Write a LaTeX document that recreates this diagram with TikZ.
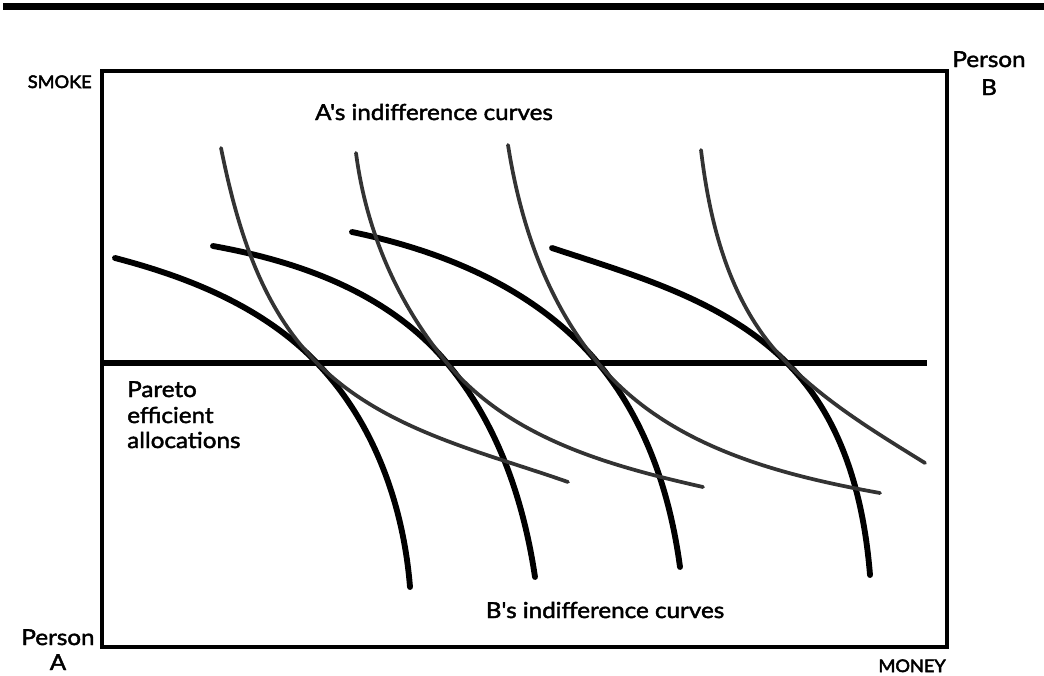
\documentclass[tikz,border=0pt]{standalone}
\usepackage{fontspec}
\setmainfont{Lato}[Ligatures=TeXOff,FakeStretch=1.1,FakeBold=2]
\newfontfamily\labelfont{Lato}[Ligatures=TeXOff,FakeStretch=1.05,FakeBold=3]
\begin{document}
\begin{tikzpicture}[x=0.75pt,y=-0.75pt,
  bcurve/.style={line width=4.4pt,line cap=round,black},
  acurve/.style={line width=2.8pt,line cap=round,black!80},
  frameline/.style={line width=3.6pt,black},
  biglabel/.style={font=\fontsize{16.5}{20}\selectfont,inner sep=0pt,anchor=base},
  smalllabel/.style={font=\labelfont\fontsize{13}{15}\selectfont,inner sep=0pt,anchor=base east},
]
\path[use as bounding box] (0,0) rectangle (1044,675);
% top rule
\fill[black] (3,3) rectangle (1044,9.5);
% frame
\draw[frameline,line join=miter] (102,71) rectangle (947,647);
% Pareto line
\draw[line width=4.6pt] (102,363) -- (927,363);

% B's indifference curves (thick, concave)
\draw[bcurve] (115,258) .. controls (189.9,277.5) and (263.6,307.3) .. (317,363)
                        .. controls (373.9,422.4) and (403.4,504.7) .. (410,587);
\draw[bcurve] (213,246) .. controls (301.6,261.9) and (389.4,293.9) .. (447,363)
                        .. controls (497.4,423.4) and (523.4,499.2) .. (535,577);
\draw[bcurve] (352,232) .. controls (445.6,251.6) and (536.8,289.6) .. (598,363)
                        .. controls (645.9,420.4) and (670,492.9) .. (680,567);
\draw[bcurve] (552,248) .. controls (636,275.7) and (724.5,300.5) .. (787,363)
                        .. controls (842.4,418.4) and (863.7,496.9) .. (870,575);

% A's indifference curves (thinner, convex)
\draw[acurve] (221,148) .. controls (236.9,226.4) and (260.4,306.4) .. (317,363)
                        .. controls (383.7,429.7) and (478.9,450.8) .. (568,482);
\draw[acurve] (356,153) .. controls (366.0,230.2) and (397.2,303.2) .. (447,363)
                        .. controls (509.4,437.9) and (607.9,465.5) .. (703,487);
\draw[acurve] (508,145) .. controls (520.5,224.2) and (546.7,301.4) .. (598,363)
                        .. controls (666.4,445.0) and (774.9,474.1) .. (880,493);
\draw[acurve] (701,150) .. controls (710.3,228.2) and (731.3,307.3) .. (787,363)
                        .. controls (827.2,403.2) and (876.6,433) .. (925,463);

% labels
\node[smalllabel] (smoke) at (92,88) {SMOKE};
\node[smalllabel] (money) at (946,672) {MONEY};
\node[biglabel] (personB) at (989,67) {Person};
\node[biglabel] (personBletter) at (989,95) {B};
\node[biglabel] (personA) at (58,645) {Person};
\node[biglabel] (personAletter) at (58,670) {A};
\node[biglabel] (acurves) at (434,120) {A's indifference curves};
\node[biglabel] (bcurves) at (605,618) {B's indifference curves};
\node[biglabel,anchor=base west] (pareto1) at (127,397) {Pareto};
\node[biglabel,anchor=base west] (pareto2) at (127,423) {efficient};
\node[biglabel,anchor=base west] (pareto3) at (127,448) {allocations};
\end{tikzpicture}
\end{document}
